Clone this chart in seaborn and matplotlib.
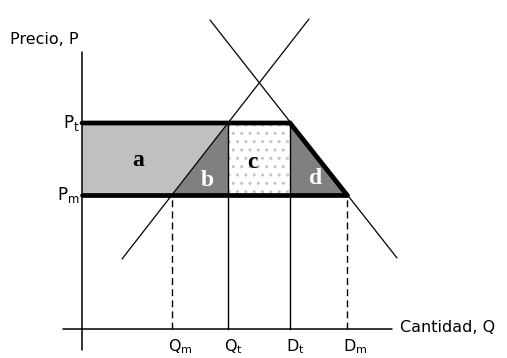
import matplotlib
matplotlib.use("Agg")
import matplotlib.pyplot as plt
import seaborn as sns
import pandas as pd

# ---- data (diagram units) ----
price_names = ["t", "m"]
price_values = [20.6, 13.4]          # Pt, Pm
qty_letters = ["Q", "Q", "D", "D"]
qty_subs = ["m", "t", "t", "m"]
qty_values = [9.0, 14.6, 20.8, 26.5]  # Qm, Qt, Dt, Dm
supply_q = [4.0, 22.7]
supply_p = [7.0, 31.0]
demand_q = [12.8, 31.5]
demand_p = [30.9, 7.1]
area_labels = ["a", "b", "c", "d"]

sns.set_theme(style="white")
plt.rcParams["font.family"] = ["DejaVu Sans"]
plt.rcParams["mathtext.fontset"] = "dejavusans"
plt.rcParams["hatch.linewidth"] = 1.0
plt.rcParams["text.color"] = "black"

Pt, Pm = price_values
Qm, Qt, Dt, Dm = qty_values

fig = plt.figure(figsize=(5.07, 3.58), dpi=100)
ax = fig.add_axes([0, 0, 1, 1])
ax.set_xlim(-8.2, 42.5)
ax.set_ylim(-2.9, 32.9)
ax.axis("off")

# ---- areas ----
ax.fill([0, Qt, Qm, 0], [Pt, Pt, Pm, Pm], color="#c0c0c0", lw=0, zorder=1)
ax.fill([Qm, Qt, Qt], [Pm, Pt, Pm], color="#808080", lw=0, zorder=1)
ax.fill([Qt, Dt, Dt, Qt], [Pt, Pt, Pm, Pm], facecolor="white",
        edgecolor="#c4c4c4", hatch="..", lw=0, zorder=1)
ax.fill([Dt, Dm, Dt], [Pt, Pm, Pm], color="#808080", lw=0, zorder=1)

# ---- supply & demand ----
sdf = pd.DataFrame({"Q": supply_q, "P": supply_p})
ddf = pd.DataFrame({"Q": demand_q, "P": demand_p})
sns.lineplot(data=sdf, x="Q", y="P", ax=ax, color="black", lw=0.9, zorder=3)
sns.lineplot(data=ddf, x="Q", y="P", ax=ax, color="black", lw=0.9, zorder=3)

# ---- axes ----
ax.plot([0, 0], [-2.1, 27.7], color="black", lw=1.1, zorder=4)
ax.plot([-1.9, 31.0], [0, 0], color="black", lw=1.1, zorder=4)

# ---- vertical guides ----
for q, p, ls in [(Qm, Pm, (0, (5, 3))), (Qt, Pt, "-"), (Dt, Pt, "-"), (Dm, Pm, (0, (5, 3)))]:
    ax.plot([q, q], [0, p], color="black", lw=1.0, ls=ls, zorder=4)

# ---- thick outline ----
ax.plot([0, Dt, Dm], [Pt, Pt, Pm], color="black", lw=3.4, zorder=5,
        solid_joinstyle="miter")
ax.plot([0, Dm], [Pm, Pm], color="black", lw=3.4, zorder=5)

# ---- text ----
ax.text(-7.2, 28.9, "Precio, P", fontsize=11.5, ha="left", va="center")
ax.text(31.8, 0.2, "Cantidad, Q", fontsize=11.5, ha="left", va="center")
for name, p in zip(price_names, price_values):
    ax.text(-0.2, p, rf"$\mathrm{{P_{name}}}$", fontsize=12, ha="right", va="center")
for letter, sub, q in zip(qty_letters, qty_subs, qty_values):
    ax.text(q - 0.4, -2.75, rf"$\mathrm{{{letter}_{sub}}}$", fontsize=11.5,
            ha="left", va="bottom")

area_pos = [(5.6, 16.9, "black"), (12.5, 14.8, "white"), (17.0, 16.7, "black"), (23.4, 15.0, "white")]
for lab, (x, y, c) in zip(area_labels, area_pos):
    ax.text(x, y, lab, fontsize=17, fontweight="bold", family="Liberation Serif",
            color=c, ha="center", va="center", zorder=6)

fig.savefig("out.png", dpi=100)
